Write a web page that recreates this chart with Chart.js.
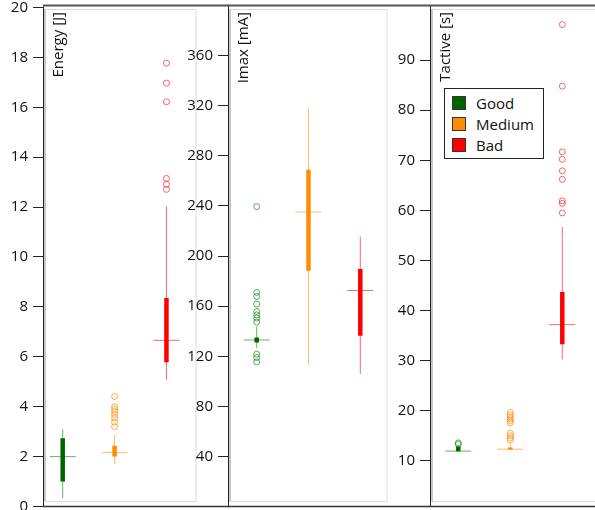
<!DOCTYPE html>
<html>
<head>
<meta charset="utf-8">
<script src="https://cdn.jsdelivr.net/npm/chart.js@4"></script>
<style>
html,body{margin:0;padding:0;background:#fff;}
#wrap{position:relative;width:595px;height:510px;overflow:hidden;font-family:'Open Sans',sans-serif;}
canvas{position:absolute;top:0;}
#legend{position:absolute;left:444px;top:88px;width:100px;height:71px;border:1px solid #222;background:#fff;box-sizing:border-box;padding:4px 0 0 7px;}
#legend .row{display:flex;align-items:center;height:20.7px;font-size:15px;color:#111;}
#legend .sw{width:12px;height:12px;border:1px solid #333;margin-right:10px;}
</style>
</head>
<body>
<div id="wrap">
  <canvas id="c1" width="229" height="510" style="left:0px"></canvas>
  <canvas id="c2" width="250" height="510" style="left:180px"></canvas>
  <canvas id="c3" width="215" height="510" style="left:380px"></canvas>
  <div id="legend"></div>
</div>
<script>
// ---------------- data ----------------
const categories = ['Good', 'Medium', 'Bad'];

// Energy [J]
const energyLow    = [0.33, 1.71, 5.08];
const energyQ1     = [1.0, 2.0, 5.78];
const energyMedian = [2.0, 2.16, 6.66];
const energyQ3     = [2.74, 2.43, 8.36];
const energyHigh   = [3.10, 2.87, 12.04];
const energyOutGood   = [];
const energyOutMedium = [4.41, 4.0, 3.9, 3.8, 3.68, 3.55, 3.38, 3.2];
const energyOutBad    = [12.71, 12.91, 13.15, 16.22, 16.97, 17.77];
const energyTicks = [0, 2, 4, 6, 8, 10, 12, 14, 16, 18, 20];

// Imax [mA]
const imaxLow    = [126.6, 113.7, 105.8];
const imaxQ1     = [131.0, 188.3, 136.4];
const imaxMedian = [133.0, 235.2, 172.5];
const imaxQ3     = [135.0, 269.0, 189.6];
const imaxHigh   = [143.8, 318.2, 215.7];
const imaxOutGood   = [239.5, 171.0, 167.7, 161.7, 155.8, 153.0, 150.5, 147.3, 121.6, 119.0, 115.4];
const imaxOutMedium = [];
const imaxOutBad    = [];
const imaxTicks = [40, 80, 120, 160, 200, 240, 280, 320, 360];

// Tactive [s]
const tactLow    = [11.9, 12.2, 30.25];
const tactQ1     = [11.95, 12.3, 33.3];
const tactMedian = [11.95, 12.34, 37.2];
const tactQ3     = [12.9, 12.7, 43.7];
const tactHigh   = [13.0, 13.5, 56.7];
const tactOutGood   = [13.3, 13.6];
const tactOutMedium = [14.2, 14.6, 15.0, 15.5, 17.6, 18.0, 18.4, 18.8, 19.2, 19.7];
const tactOutBad    = [59.5, 61.4, 61.9, 66.2, 67.9, 70.2, 71.7, 84.8, 97.1];
const tactTicks = [10, 20, 30, 40, 50, 60, 70, 80, 90];

// ---------------- style ----------------
const boxColors     = ['#006400', '#FF8C00', '#FF0000'];
const whiskerColors = ['rgba(0,128,0,0.6)', 'rgba(255,140,0,0.6)', 'rgba(255,0,0,0.6)'];
const outlierColors = ['rgba(0,128,0,0.65)', 'rgba(255,140,0,0.7)', 'rgba(255,0,0,0.6)'];
const FONT = "'Open Sans', sans-serif";

function buildDatasets(low, q1, med, q3, high, outs) {
  const ds = [];
  categories.forEach((c, i) => {
    const x = i + 1;
    ds.push({data: [{x: x, y: low[i]}, {x: x, y: high[i]}], showLine: true, borderColor: whiskerColors[i],
             borderWidth: 1, pointRadius: 0, order: 3});
    ds.push({data: [{x: x - 0.25, y: med[i]}, {x: x + 0.25, y: med[i]}], showLine: true, borderColor: whiskerColors[i],
             borderWidth: 1, pointRadius: 0, order: 2});
    ds.push({data: [{x: x, y: q1[i]}, {x: x, y: q3[i]}], showLine: true, borderColor: boxColors[i],
             borderWidth: 4.5, borderCapStyle: 'butt', pointRadius: 0, order: 1});
    ds.push({data: outs[i].map(v => ({x: x, y: v})), showLine: false, pointRadius: 3,
             pointBorderColor: outlierColors[i], pointBackgroundColor: 'rgba(0,0,0,0)', pointBorderWidth: 1, order: 0});
  });
  return ds;
}

const framePlugin = {
  id: 'frame',
  beforeDatasetsDraw(chart, args, opts) {
    const a = chart.chartArea, ctx = chart.ctx;
    const xs = chart.scales.x;
    const right = opts.innerRight != null ? xs.getPixelForValue(opts.innerRight) : a.right + 5;
    ctx.save();
    ctx.strokeStyle = '#dcdcdc';
    ctx.lineWidth = 1;
    ctx.strokeRect(a.left + 2.5, a.top + 4.5, right - a.left - 2.5, a.bottom - a.top - 9.5);
    ctx.strokeStyle = '#c8c8c8';
    ctx.lineWidth = 2;
    ctx.beginPath();
    ctx.moveTo(a.left + 2, a.top + 4); ctx.lineTo(a.left + 2, a.bottom - 5);
    ctx.stroke();
    ctx.restore();
  },
  afterDraw(chart, args, opts) {
    const a = chart.chartArea, ctx = chart.ctx;
    ctx.save();
    ctx.strokeStyle = '#555';
    ctx.lineWidth = 2;
    ctx.beginPath();
    ctx.moveTo(a.left, a.top + 0.5); ctx.lineTo(a.right, a.top + 0.5);
    ctx.stroke();
    ctx.strokeStyle = '#333';
    ctx.lineWidth = 1.5;
    ctx.beginPath();
    ctx.moveTo(a.left, a.bottom); ctx.lineTo(a.right, a.bottom);
    ctx.stroke();
    // axis title, rotated, inside plot
    ctx.translate(a.left + 16, a.top + 7);
    ctx.rotate(-Math.PI / 2);
    ctx.fillStyle = '#111';
    ctx.font = '15px ' + FONT;
    ctx.textAlign = 'right';
    ctx.textBaseline = 'middle';
    ctx.fillText(opts.title, 0, 0);
    ctx.restore();
  }
};

function makeChart(id, datasets, ticks, ymin, ymax, xmin, xmax, axisWidth, title, innerRight) {
  return new Chart(document.getElementById(id), {
    type: 'scatter',
    data: {datasets: datasets},
    options: {
      responsive: false,
      animation: false,
      layout: {autoPadding: false, padding: {top: 5, bottom: 3.5, left: 0, right: 0}},
      plugins: {legend: {display: false}, tooltip: {enabled: false},
                frame: {title: title, innerRight: innerRight}},
      scales: {
        x: {type: 'linear', display: false, min: xmin, max: xmax},
        y: {
          type: 'linear', min: ymin, max: ymax,
          afterBuildTicks: ax => { ax.ticks = ticks.map(v => ({value: v})); },
          afterFit: ax => { ax.width = axisWidth; ax.paddingTop = 0; ax.paddingBottom = 0; },
          grid: {display: true, drawOnChartArea: false, drawTicks: true, tickLength: 10, color: '#222'},
          border: {display: true, color: '#222', width: 1},
          ticks: {padding: 5, color: '#111', font: {family: FONT, size: 15}}
        }
      }
    },
    plugins: [framePlugin]
  });
}

makeChart('c1',
  buildDatasets(energyLow, energyQ1, energyMedian, energyQ3, energyHigh, [energyOutGood, energyOutMedium, energyOutBad]),
  energyTicks, 0, 20.1, 0.62, 4.206, 43, 'Energy [J]', 3.57);
makeChart('c2',
  buildDatasets(imaxLow, imaxQ1, imaxMedian, imaxQ3, imaxHigh, [imaxOutGood, imaxOutMedium, imaxOutBad]),
  imaxTicks, 0, 400.5, 0.446, 4.346, 48, 'Imax [mA]', 3.516);
makeChart('c3',
  buildDatasets(tactLow, tactQ1, tactMedian, tactQ3, tactHigh, [tactOutGood, tactOutMedium, tactOutBad]),
  tactTicks, 0.9, 101, 0.456, 3.629, 50, 'Tactive [s]', null);

// legend
const lg = document.getElementById('legend');
categories.forEach((c, i) => {
  const row = document.createElement('div');
  row.className = 'row';
  const sw = document.createElement('span');
  sw.className = 'sw';
  sw.style.background = boxColors[i];
  const t = document.createElement('span');
  t.textContent = c;
  row.appendChild(sw); row.appendChild(t);
  lg.appendChild(row);
});
</script>
</body>
</html>
